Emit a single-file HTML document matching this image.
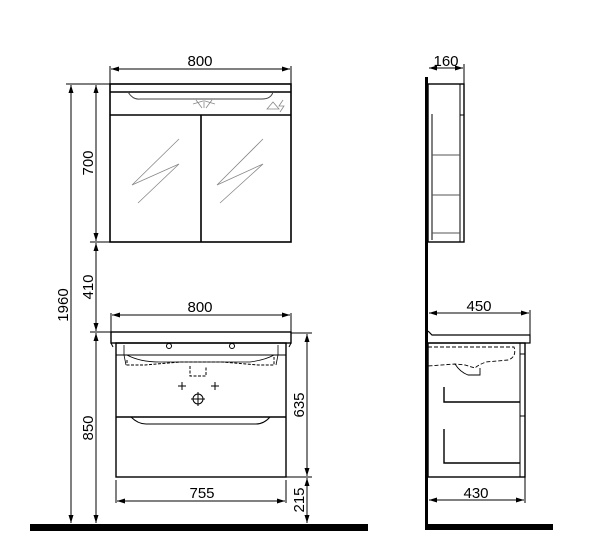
<!DOCTYPE html>
<html><head><style>html,body{margin:0;padding:0;background:#fff}svg{display:block}</style></head><body>
<svg width="600" height="557" viewBox="0 0 600 557" xmlns="http://www.w3.org/2000/svg" font-family="Liberation Sans, sans-serif" font-size="15" fill="none" stroke="#000">
<defs><marker id="a" markerWidth="8" markerHeight="6" refX="8" refY="3" orient="auto-start-reverse"><path d="M0,0.5 L8,3 L0,5.5z" fill="#000" stroke="none"/></marker></defs>
<g stroke-width="1">
<!-- mirror cabinet -->
<rect x="110" y="84" width="181" height="158" stroke-width="1.6"/>
<line x1="110" y1="92" x2="291" y2="92" stroke-width="1.6"/>
<line x1="110" y1="115" x2="291" y2="115" stroke-width="1.6"/>
<line x1="201" y1="115" x2="201" y2="242" stroke-width="1.6"/>
<path d="M128,92 Q133,100 140,99 L262,99 Q271,99 273,92" stroke="#444"/>
<g stroke="#888" stroke-width="0.8"><path d="M193,104 L203,101 M196,100 L202,108 M204,100 L204,108 M212,100 L206,108 M215,104 L205,101"/>
<path d="M267,109 L273,102 L279,109z M283,100 L279,106 L284,106 L280,112"/>
<path d="M179,139 L132,185 L179,164 L138,203 M263,139 L217,185 L263,164 L220,203"/></g>
<!-- dims mirror -->
<line x1="111" y1="69" x2="290" y2="69" marker-start="url(#a)" marker-end="url(#a)"/>
<line x1="110" y1="66" x2="110" y2="84"/><line x1="291" y1="66" x2="291" y2="84"/>
<line x1="66" y1="84" x2="110" y2="84"/><line x1="90" y1="242" x2="110" y2="242"/>
<line x1="96" y1="85" x2="96" y2="241" marker-start="url(#a)" marker-end="url(#a)"/>
<line x1="96" y1="243" x2="96" y2="331" marker-start="url(#a)" marker-end="url(#a)"/>
<line x1="96" y1="333" x2="96" y2="523" marker-start="url(#a)" marker-end="url(#a)"/>
<line x1="71" y1="85" x2="71" y2="523" marker-start="url(#a)" marker-end="url(#a)"/>
<line x1="90" y1="332" x2="111" y2="332"/>
<!-- vanity -->
<rect x="111" y="332" width="180" height="11" stroke-width="1.4"/>
<path d="M111,343 L113,347 M291,343 L289,347"/>
<rect x="116" y="343" width="170" height="134" stroke-width="1.4"/>
<line x1="116" y1="355" x2="286" y2="355"/>
<line x1="116" y1="417" x2="286" y2="417" stroke-width="1.4"/>
<path d="M131,417 Q138,424 146,424 L256,424 Q264,424 270,417"/>
<path d="M124,345 L124,355 L126,365 M278,345 L278,355 L276,365" stroke-width="0.8"/>
<path d="M127,355 Q140,362 160,362 L250,362 Q265,360 274,355" stroke-width="0.8"/>
<path d="M127,360 L127,365 L145,365 L180,362 L222,362 L258,365 L274,365 L274,357 M190,366 L190,376 L206,376 L206,366" stroke-dasharray="3,1.5"/>
<circle cx="169" cy="346" r="2.5"/><circle cx="232" cy="346" r="2.5"/>
<path d="M182,382 v8 M178,386 h8 M215,382 v8 M211,386 h8"/>
<circle cx="198" cy="399" r="5"/><path d="M198,392 v14 M191,399 h14"/>
<!-- vanity dims -->
<line x1="112" y1="315" x2="290" y2="315" marker-start="url(#a)" marker-end="url(#a)"/>
<line x1="111" y1="313" x2="111" y2="332"/><line x1="291" y1="313" x2="291" y2="332"/>
<line x1="117" y1="501" x2="285" y2="501" marker-start="url(#a)" marker-end="url(#a)"/>
<line x1="116" y1="480" x2="116" y2="503"/><line x1="286" y1="480" x2="286" y2="503"/>
<line x1="291" y1="333" x2="312" y2="333"/><line x1="286" y1="477" x2="312" y2="477"/>
<line x1="307" y1="334" x2="307" y2="476" marker-start="url(#a)" marker-end="url(#a)"/>
<line x1="307" y1="478" x2="307" y2="523" marker-start="url(#a)" marker-end="url(#a)"/>
<!-- side view -->
<rect x="425" y="77" width="3" height="450" fill="#000" stroke="none"/>
<rect x="428" y="84" width="36" height="158" stroke-width="1.4"/>
<line x1="460" y1="84" x2="460" y2="242"/>
<line x1="460" y1="115" x2="464" y2="115"/>
<line x1="432" y1="114" x2="432" y2="240"/>
<line x1="432" y1="155" x2="460" y2="155" stroke="#555"/>
<line x1="432" y1="195" x2="460" y2="195" stroke="#555"/>
<line x1="432" y1="233" x2="460" y2="233" stroke="#555"/>
<line x1="429" y1="68" x2="463" y2="68" marker-start="url(#a)" marker-end="url(#a)"/>
<line x1="464" y1="64" x2="464" y2="84"/>
<path d="M428,331 L432,335 L530,335 L530,343 L428,343" stroke-width="1.2"/>
<rect x="428" y="343" width="97" height="134" stroke-width="1.4"/>
<line x1="520" y1="343" x2="520" y2="477"/>
<line x1="520" y1="354" x2="525" y2="354"/><line x1="520" y1="416" x2="525" y2="416"/>
<path d="M428,347 L514,347 Q517,357 508,360 L486,362 Q478,365 475,368 L465,365 L455,364 L428,366" stroke-dasharray="4,2" stroke-width="0.9"/>
<path d="M455,364 Q460,372 468,375 L480,375 L480,368" stroke-width="0.9"/>
<path d="M444,387 L444,402 L520,402 M444,429 L444,463 L520,463" stroke-width="1.4"/>
<line x1="429" y1="313" x2="529" y2="313" marker-start="url(#a)" marker-end="url(#a)"/>
<line x1="530" y1="310" x2="530" y2="335"/>
<line x1="429" y1="500" x2="524" y2="500" marker-start="url(#a)" marker-end="url(#a)"/>
<line x1="525" y1="477" x2="525" y2="503"/>
</g>
<!-- floors -->
<rect x="30" y="524" width="338" height="7" fill="#000" stroke="none"/>
<rect x="425" y="524" width="128" height="6" fill="#000" stroke="none"/>
<g fill="#000" stroke="none" text-anchor="middle">
<text x="200" y="66">800</text>
<text x="200" y="312">800</text>
<text x="202" y="498">755</text>
<text x="446" y="66">160</text>
<text x="479" y="311">450</text>
<text x="476" y="498">430</text>
<text transform="translate(93,163) rotate(-90)">700</text>
<text transform="translate(93,287) rotate(-90)">410</text>
<text transform="translate(93,428) rotate(-90)">850</text>
<text transform="translate(68,305) rotate(-90)">1960</text>
<text transform="translate(304,405) rotate(-90)">635</text>
<text transform="translate(304,500) rotate(-90)">215</text>
</g>
</svg>
</body></html>
